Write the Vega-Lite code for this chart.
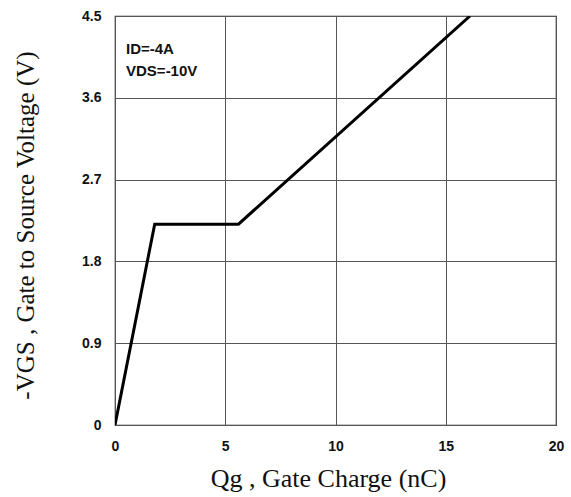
{
  "$schema": "https://vega.github.io/schema/vega-lite/v6.json",
  "width": 441,
  "height": 409,
  "autosize": {"type": "none"},
  "padding": {"left": 115, "top": 16, "right": 15, "bottom": 72},
  "background": "white",
  "config": {
    "view": {"stroke": "#222", "strokeWidth": 1.2},
    "axis": {
      "grid": true, "gridColor": "#555", "gridWidth": 1, "gridOpacity": 1,
      "domain": false, "ticks": false, "labelFlush": false,
      "labelFont": "Liberation Sans", "labelFontWeight": "bold", "labelFontSize": 14, "labelColor": "#111",
      "titleFont": "Liberation Serif", "titleFontWeight": "normal", "titleFontSize": 24, "titleColor": "#111"
    }
  },
  "datasets": {
    "curve": [
      {"qg": 0, "vgs": 0},
      {"qg": 1.8, "vgs": 2.21},
      {"qg": 5.6, "vgs": 2.21},
      {"qg": 16.1, "vgs": 4.5}
    ],
    "notes": [
      {"qg": 0.5, "vgs": 4.08, "label": "ID=-4A"},
      {"qg": 0.5, "vgs": 3.84, "label": "VDS=-10V"}
    ]
  },
  "layer": [
    {
      "data": {"name": "curve"},
      "mark": {"type": "line", "color": "black", "strokeWidth": 3, "clip": true},
      "encoding": {
        "x": {
          "field": "qg", "type": "quantitative",
          "scale": {"domain": [0, 20], "nice": false},
          "axis": {"values": [0, 5, 10, 15, 20], "labelPadding": 14,
                   "title": "Qg , Gate Charge (nC)", "titleBaseline": "alphabetic",
                   "titleFontSize": 26,
                   "titleX": 213, "titleY": 61, "titleAnchor": "middle", "titleAlign": "center"}
        },
        "y": {
          "field": "vgs", "type": "quantitative",
          "scale": {"domain": [0, 4.5], "nice": false},
          "axis": {"values": [0, 0.9, 1.8, 2.7, 3.6, 4.5], "format": "~g", "labelPadding": 14,
                   "title": "-VGS , Gate to Source Voltage (V)", "titleBaseline": "alphabetic",
                   "titleFontSize": 25,
                   "titleX": -82, "titleY": 209, "titleAngle": -90, "titleAlign": "center"}
        }
      }
    },
    {
      "data": {"name": "notes"},
      "mark": {"type": "text", "align": "left", "baseline": "alphabetic", "font": "Liberation Sans", "fontWeight": "bold", "fontSize": 15, "color": "#111"},
      "encoding": {
        "x": {"field": "qg", "type": "quantitative"},
        "y": {"field": "vgs", "type": "quantitative"},
        "text": {"field": "label"}
      }
    }
  ]
}
